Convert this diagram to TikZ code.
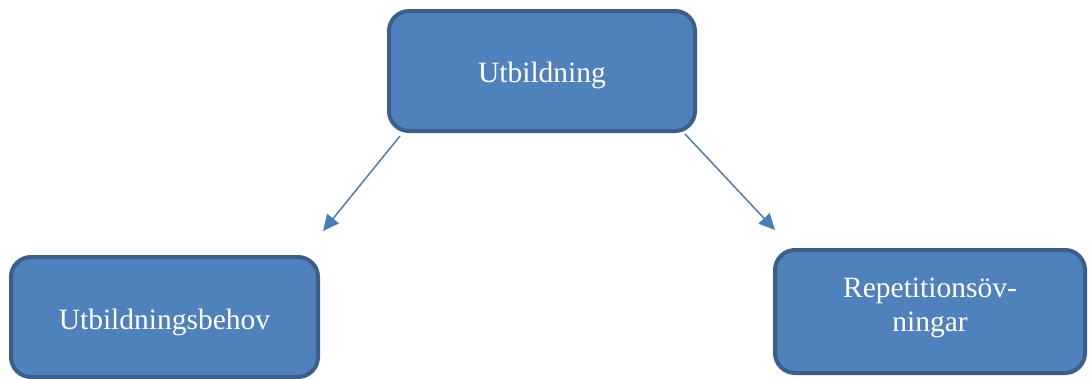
\documentclass[tikz,border=0pt]{standalone}
\usepackage{fontspec}
\setmainfont{Liberation Serif}
\usetikzlibrary{arrows.meta}
\definecolor{boxfill}{HTML}{4F81BD}
\definecolor{boxline}{HTML}{3A5F8B}
\definecolor{arrowcol}{HTML}{4A7EBB}
\tikzset{
  box/.style={draw=boxline, fill=boxfill, line width=4pt, rounded corners=20pt, inner sep=0pt},
  conn/.style={draw=arrowcol, line width=1.5pt, -{Triangle[length=16pt,width=15pt]}},
  lbl/.style={text=white, align=center, inner sep=0pt, font=\fontsize{29.5}{33.5}\selectfont}
}
\begin{document}
\begin{tikzpicture}[x=1pt,y=-1pt]
\useasboundingbox (0,0) rectangle (1091,378);
\clip (0,0) rectangle (1091,378);
\node[box, minimum width=306pt, minimum height=120pt,
  label={[lbl, yshift=-4pt]center:Utbildning}] (top) at (542,71) {};
\node[box, minimum width=307pt, minimum height=120pt,
  label={[lbl, yshift=-5pt]center:Utbildningsbehov}] (left) at (164.5,317) {};
\node[box, minimum width=310pt, minimum height=123pt] (right) at (930,311.5) {};
\node[lbl] (rtext) at (930,308) {Repetitionsöv-\\ningar};
\coordinate (lend) at (323,231);
\coordinate (rend) at (775,230);
\draw[conn] (top.south west) ++(13,3) coordinate (ls) -- (lend);
\draw[conn] (top.south east) ++(-12,1) coordinate (rs) -- (rend);
\end{tikzpicture}
\end{document}
